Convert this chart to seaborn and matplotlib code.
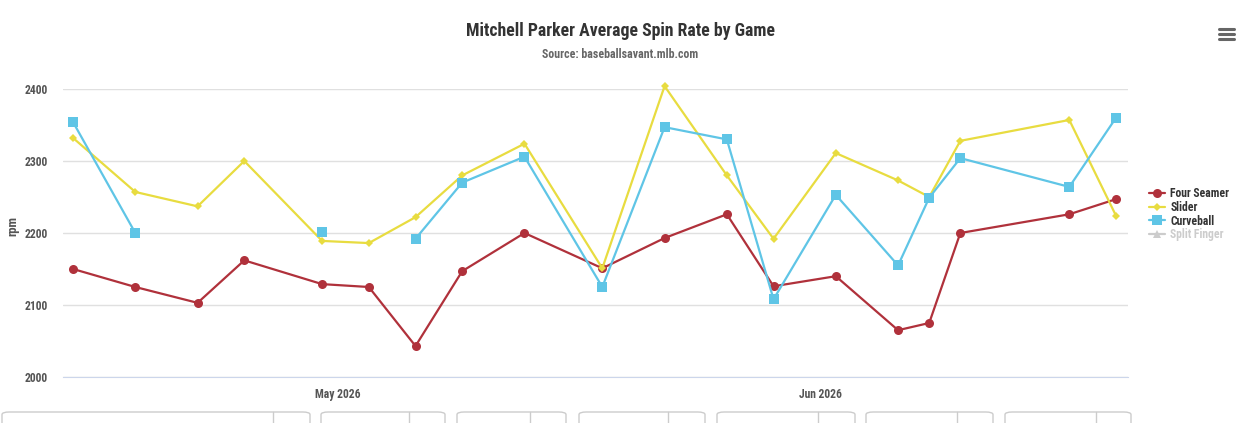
import numpy as np
import pandas as pd
import seaborn as sns
import matplotlib.pyplot as plt
from matplotlib.lines import Line2D
from matplotlib.patches import FancyBboxPatch

# game dates and average spin (rpm) per pitch type
dates = ['2026-04-14', '2026-04-18', '2026-04-22', '2026-04-25', '2026-04-30',
         '2026-05-03', '2026-05-06', '2026-05-09', '2026-05-13', '2026-05-18',
         '2026-05-22', '2026-05-26', '2026-05-29', '2026-06-02', '2026-06-06',
         '2026-06-08', '2026-06-10', '2026-06-17', '2026-06-20']
four_seamer = [2150, 2125, 2103, 2162, 2129, 2125, 2043, 2147, 2200, 2151,
               2193, 2226, 2126, 2140, 2065, 2075, 2200, 2226, 2247]
slider = [2332, 2257, 2237, 2300, 2189, 2186, 2222, 2280, 2324, 2151,
          2404, 2280, 2192, 2311, 2273, 2250, 2328, 2357, 2224]
curveball = [2354, 2200, np.nan, np.nan, 2201, np.nan, 2192, 2270, 2306, 2125,
             2347, 2330, 2108, 2253, 2155, 2249, 2304, 2264, 2360]

series = {'Four Seamer': four_seamer, 'Slider': slider, 'Curveball': curveball}
colors = {'Four Seamer': '#b0313b', 'Slider': '#e8dc40', 'Curveball': '#5fc5e6'}
markers = {'Four Seamer': 'o', 'Slider': 'D', 'Curveball': 's'}
msizes = {'Four Seamer': 6.5, 'Slider': 4.5, 'Curveball': 6.5}

rows = []
for name, vals in series.items():
    vals = pd.Series(vals, dtype=float)
    seg = vals.isna().cumsum()
    for d, v, s in zip(dates, vals, seg):
        if not np.isnan(v):
            rows.append({'date': pd.Timestamp(d), 'rpm': v, 'pitch': name, 'seg': s})
df = pd.DataFrame(rows)

sns.set_style('white')
plt.rcParams['font.family'] = ['Roboto Condensed', 'Roboto', 'DejaVu Sans']
plt.rcParams['font.stretch'] = 'condensed'

W, H = 1241, 423
fig = plt.figure(figsize=(W / 100, H / 100), dpi=100)
ax = fig.add_axes([63 / W, 1 - 377 / H, (1128 - 63) / W, (377 - 89) / H])

for name in series:
    sub = df[df['pitch'] == name]
    sns.lineplot(data=sub, x='date', y='rpm', units='seg', estimator=None,
                 color=colors[name], marker=markers[name], markersize=msizes[name],
                 markeredgewidth=0, linewidth=1.6, ax=ax, clip_on=False, legend=False)

ax.set_ylim(2000, 2400)
ax.set_yticks([2000, 2100, 2200, 2300, 2400])
ax.set_xlim(pd.Timestamp('2026-04-14') - pd.Timedelta(hours=15.5),
            pd.Timestamp('2026-06-20') + pd.Timedelta(hours=18.5))
ax.set_xticks([pd.Timestamp('2026-05-01'), pd.Timestamp('2026-06-01')])
ax.set_xticklabels(['May 2026', 'Jun 2026'])
ax.grid(axis='y', color='#e0e0e0', linewidth=1)
ax.set_axisbelow(True)
for sp in ['top', 'right', 'left']:
    ax.spines[sp].set_visible(False)
ax.spines['bottom'].set_color('#ccd6eb')
ax.tick_params(axis='x', length=7, color='#ccd6eb', pad=1, labelsize=8.4, labelcolor='#555555')
ax.tick_params(axis='y', length=0, pad=11, labelsize=8.4, labelcolor='#555555')
for lab in ax.get_xticklabels() + ax.get_yticklabels():
    lab.set_fontweight('bold')
ax.set_xlabel('')
ax.set_ylabel('')
fig.text(13 / W, 1 - 226 / H, 'rpm', rotation=90, ha='center', va='center',
         fontsize=9.2, fontweight='bold', color='#555555')

fig.text(620 / W, 1 - 31 / H, 'Mitchell Parker Average Spin Rate by Game', ha='center', va='center',
         fontsize=12.8, fontweight='bold', color='#333333')
fig.text(620 / W, 1 - 54 / H, 'Source: baseballsavant.mlb.com', ha='center', va='center',
         fontsize=8.6, fontweight='bold', color='#666666')

handles = [Line2D([], [], color=colors[n], marker=markers[n], markersize=msizes[n],
                  markeredgewidth=0, linewidth=1.6) for n in series]
handles.append(Line2D([], [], color='#cccccc', marker='^', markersize=6,
                      markeredgewidth=0, linewidth=1.6))
leg = fig.legend(handles, list(series) + ['Split Finger'], loc='upper left',
                 bbox_to_anchor=(1144 / W, 1 - 182 / H), frameon=False,
                 handlelength=1.4, handletextpad=0.45, labelspacing=0.08,
                 prop={'size': 8.4, 'weight': 'bold', 'stretch': 'condensed'}, borderaxespad=0)
for t in leg.get_texts():
    t.set_color('#333333')
leg.get_texts()[-1].set_color('#cccccc')

# menu icon
for yy in (29, 34, 39):
    fig.add_artist(Line2D([1219 / W, 1234 / W], [1 - yy / H, 1 - yy / H],
                          color='#666666', linewidth=2.2, solid_capstyle='round'))

# range input boxes cut off at the bottom
boxes = [(2, 310, 273), (321, 445, 409), (457, 566, 530), (579, 705, 668),
         (717, 855, 818), (866, 993, 957), (1005, 1131, 1096)]
for x0, x1, xd in boxes:
    fig.add_artist(FancyBboxPatch((x0 / W, 1 - 440 / H), (x1 - x0) / W, 28 / H,
                                  boxstyle='round,pad=0,rounding_size=0.006',
                                  transform=fig.transFigure, facecolor='white',
                                  edgecolor='#cccccc', linewidth=1))
    fig.add_artist(Line2D([xd / W, xd / W], [1 - 412 / H, 0], color='#cccccc', linewidth=1))

fig.savefig('out.png', dpi=100)
